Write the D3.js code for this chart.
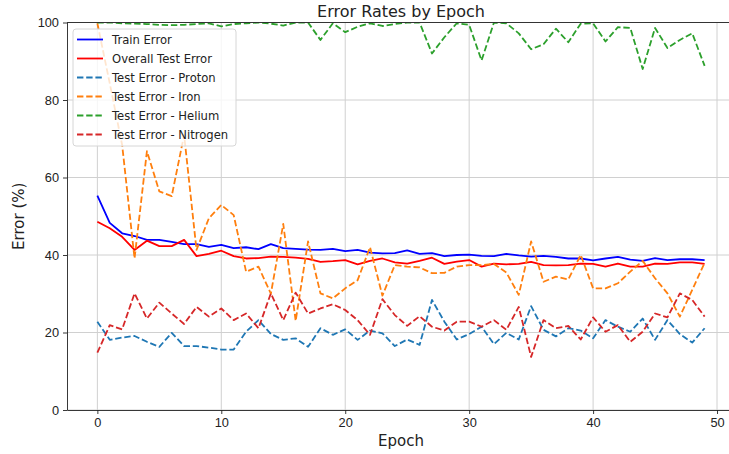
<!DOCTYPE html>
<html>
<head>
<meta charset="UTF-8">
<script src="https://cdn.jsdelivr.net/npm/d3@7"></script>
<style>
  body { margin: 0; background: #fff; }
  svg { font-family: "DejaVu Sans", sans-serif; }
  .grid line { stroke: #d0d0d0; stroke-width: 1; }
  .axis path, .axis line { stroke: #222; stroke-width: 0.9; }
  .axis text { fill: #222; font-size: 12.8px; }
</style>
</head>
<body>
<svg id="chart" width="729" height="454"></svg>
<script>
// data
var epochs = d3.range(0, 50);

var trainError = [55.3, 48.3, 45.6, 44.9, 43.9, 43.9, 43.4, 42.8, 42.8, 42.1,
  42.6, 41.8, 42.0, 41.5, 42.8, 41.8, 41.6, 41.4, 41.3, 41.6,
  41.0, 41.3, 40.6, 40.4, 40.5, 41.2, 40.3, 40.5, 39.7, 40.0,
  40.1, 39.8, 39.7, 40.3, 39.9, 39.6, 39.8, 39.5, 39.1, 39.1,
  38.6, 39.1, 39.5, 38.8, 38.5, 39.2, 38.7, 38.9, 38.9, 38.7];

var testError = [48.6, 46.9, 44.7, 41.3, 43.7, 42.3, 42.3, 43.9, 39.7, 40.3,
  41.1, 39.7, 39.1, 39.2, 39.6, 39.5, 39.3, 39.0, 38.2, 38.4,
  38.7, 37.6, 38.5, 39.1, 38.1, 37.8, 38.5, 39.3, 37.7, 38.3,
  38.7, 37.0, 37.8, 37.6, 37.7, 38.2, 37.4, 37.3, 37.4, 37.8,
  37.7, 37.0, 37.8, 37.0, 37.0, 37.8, 37.7, 38.1, 38.1, 37.7];

var protonError = [22.8, 18.1, 18.7, 19.1, 17.6, 16.3, 19.9, 16.5, 16.5, 16.1,
  15.6, 15.6, 20.2, 23.2, 19.6, 18.1, 18.5, 16.3, 21.1, 19.4,
  20.8, 18.1, 20.5, 19.8, 16.5, 18.2, 16.8, 28.4, 22.8, 18.2,
  19.6, 21.5, 17.0, 19.9, 18.2, 26.8, 20.7, 19.0, 21.1, 20.5,
  18.5, 23.2, 21.5, 20.2, 23.6, 18.1, 23.2, 19.6, 17.4, 21.1];

var ironError = [99.8, 84.3, 68.4, 39.1, 66.8, 56.4, 55.2, 71.0, 41.3, 49.5,
  52.9, 50.3, 35.7, 37.0, 30.0, 48.0, 23.0, 43.5, 30.1, 28.8,
  31.4, 33.5, 42.0, 29.5, 37.4, 37.0, 36.8, 35.3, 35.4, 37.0,
  37.4, 37.4, 37.7, 35.5, 29.7, 43.5, 33.1, 34.4, 33.7, 40.0,
  31.4, 31.4, 32.7, 35.7, 38.5, 34.0, 30.1, 24.1, 31.0, 38.0];

var heliumError = [100, 100, 99.8, 99.7, 99.6, 99.4, 99.3, 99.4, 99.6, 99.8,
  99.0, 99.6, 99.8, 100, 99.7, 99.2, 100, 100, 95.5, 99.8,
  97.5, 98.9, 99.8, 99.1, 99.6, 100, 100, 92.0, 96.2, 99.8,
  99.4, 90.2, 100, 99.8, 97.2, 93.1, 94.4, 98.4, 94.9, 99.7,
  99.8, 95.1, 98.8, 98.6, 88.0, 98.6, 93.4, 95.5, 97.2, 88.8];

var nitrogenError = [14.8, 21.9, 20.8, 30.1, 23.6, 27.7, 24.9, 22.2, 26.6, 24.1,
  26.2, 23.2, 24.9, 21.1, 30.1, 23.2, 30.3, 24.9, 26.2, 27.3,
  25.8, 23.2, 19.4, 28.6, 24.5, 21.7, 24.2, 21.5, 20.5, 22.8,
  22.8, 21.5, 23.2, 20.7, 26.6, 13.7, 23.2, 21.1, 21.7, 18.2,
  23.9, 20.2, 21.9, 17.6, 20.2, 24.9, 23.9, 30.1, 28.4, 24.1];

var xTicks = [0, 10, 20, 30, 40, 50];
var yTicks = [0, 20, 40, 60, 80, 100];

var seriesList = [
  {name: "Train Error", values: trainError, color: "#0000ff", dash: null},
  {name: "Overall Test Error", values: testError, color: "#ff0000", dash: null},
  {name: "Test Error - Proton", values: protonError, color: "#1f77b4", dash: "6.4,2.8"},
  {name: "Test Error - Iron", values: ironError, color: "#ff7f0e", dash: "6.4,2.8"},
  {name: "Test Error - Helium", values: heliumError, color: "#2ca02c", dash: "6.4,2.8"},
  {name: "Test Error - Nitrogen", values: nitrogenError, color: "#d62728", dash: "6.4,2.8"}
];

var Left = 67, Right = 735, Top = 22.5, Bottom = 410;

var svg = d3.select("#chart");

var x = d3.scaleLinear().domain([-2.45, 51.45]).range([Left, Right]);
var y = d3.scaleLinear().domain([0, 100]).range([Bottom, Top]);

svg.append("defs").append("clipPath").attr("id", "plotClip")
  .append("rect")
  .attr("x", Left).attr("y", Top)
  .attr("width", Right - Left).attr("height", Bottom - Top);

// grid
var grid = svg.append("g").attr("class", "grid");
grid.selectAll(".gx").data(xTicks).enter().append("line")
  .attr("x1", function(d){ return x(d); }).attr("x2", function(d){ return x(d); })
  .attr("y1", Top).attr("y2", Bottom);
grid.selectAll(".gy").data(yTicks).enter().append("line")
  .attr("x1", Left).attr("x2", Right)
  .attr("y1", function(d){ return y(d); }).attr("y2", function(d){ return y(d); });

// lines
var line = d3.line()
  .x(function(d, i){ return x(epochs[i]); })
  .y(function(d){ return y(d); });

var plot = svg.append("g").attr("clip-path", "url(#plotClip)");
seriesList.forEach(function(s){
  plot.append("path")
    .datum(s.values)
    .attr("fill", "none")
    .attr("stroke", s.color)
    .attr("stroke-width", 1.8)
    .attr("stroke-dasharray", s.dash)
    .attr("stroke-linejoin", "round")
    .attr("d", line);
});

// axes
svg.append("g").attr("class", "axis")
  .attr("transform", "translate(0," + Bottom + ")")
  .call(d3.axisBottom(x).tickValues(xTicks).tickSize(4).tickPadding(4).tickSizeOuter(0));
svg.append("g").attr("class", "axis")
  .attr("transform", "translate(" + Left + ",0)")
  .call(d3.axisLeft(y).tickValues(yTicks).tickSize(4).tickPadding(4).tickSizeOuter(0));

// top / right spines
svg.append("line").attr("x1", Left).attr("x2", Right).attr("y1", Top).attr("y2", Top)
  .attr("stroke", "#222").attr("stroke-width", 0.9);
svg.append("line").attr("x1", Right).attr("x2", Right).attr("y1", Top).attr("y2", Bottom)
  .attr("stroke", "#222").attr("stroke-width", 0.9);

// titles
svg.append("text")
  .attr("x", (Left + Right) / 2).attr("y", 17)
  .attr("text-anchor", "middle")
  .style("font-size", "16px").attr("fill", "#222")
  .text("Error Rates by Epoch");

svg.append("text")
  .attr("x", (Left + Right) / 2).attr("y", 446)
  .attr("text-anchor", "middle")
  .style("font-size", "15px").attr("fill", "#222")
  .text("Epoch");

svg.append("text")
  .attr("transform", "translate(24," + ((Top + Bottom) / 2) + ") rotate(-90)")
  .attr("text-anchor", "middle")
  .style("font-size", "15px").attr("fill", "#222")
  .text("Error (%)");

// legend
var legend = svg.append("g").attr("transform", "translate(73,29)");
legend.append("rect")
  .attr("width", 163).attr("height", 117)
  .attr("rx", 3).attr("ry", 3)
  .attr("fill", "#fff").attr("fill-opacity", 0.8)
  .attr("stroke", "#d6d6d6").attr("stroke-width", 1);

var items = legend.selectAll(".item").data(seriesList).enter().append("g")
  .attr("transform", function(d, i){ return "translate(0," + (10.5 + i * 19) + ")"; });
items.append("line")
  .attr("x1", 4).attr("x2", 30)
  .attr("stroke", function(d){ return d.color; })
  .attr("stroke-width", 1.8)
  .attr("stroke-dasharray", function(d){ return d.dash; });
items.append("text")
  .attr("x", 39).attr("y", 4.2)
  .style("font-size", "11.6px").attr("fill", "#222")
  .text(function(d){ return d.name; });
</script>
</body>
</html>
